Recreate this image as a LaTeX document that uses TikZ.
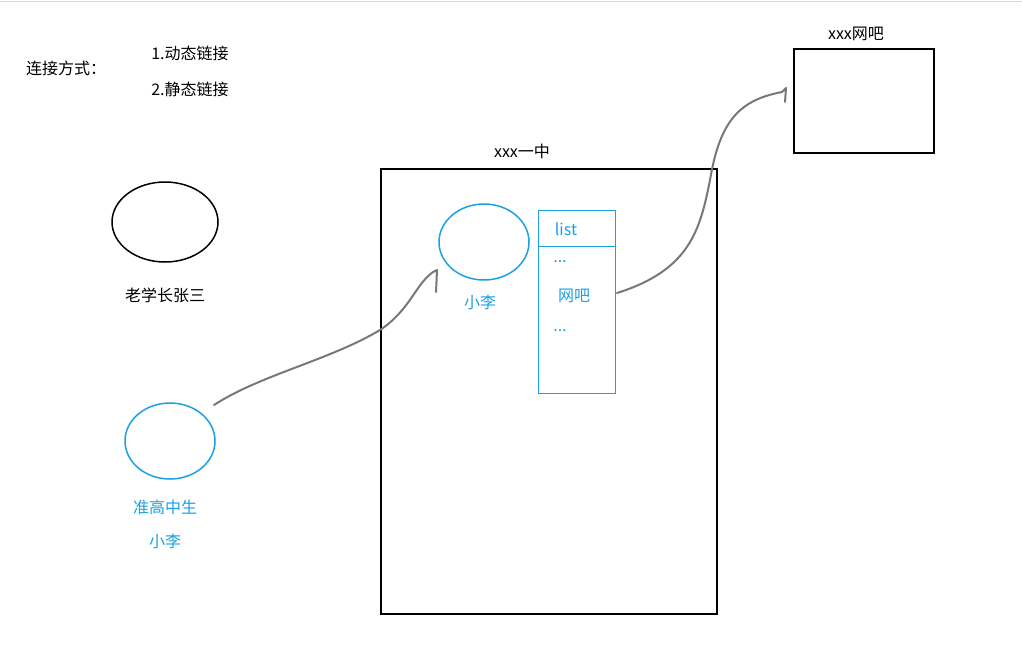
\documentclass[tikz,border=0pt]{standalone}
\usepackage{fontspec}
\usetikzlibrary{shapes.geometric}
\newfontfamily\cjk{Noto Sans CJK SC}
\definecolor{sky}{RGB}{27,161,226}
\definecolor{pen}{RGB}{120,120,120}
\begin{document}
\begin{tikzpicture}[x=1pt,y=-1pt,
  lbl/.style={font=\cjk\fontsize{16}{18}\selectfont,inner sep=0pt},
  blbl/.style={lbl,text=sky},
  stroke/.style={draw=pen,line width=2pt,line cap=round,line join=round}]
\useasboundingbox[fill=white] (0,0) rectangle (1022,657);
\draw[gray!30] (0,1) -- (1022,1);
\node[lbl] (way) at (66,68) {连接方式：};
\node[lbl] (m1) at (190,53) {1.动态链接};
\node[lbl] (m2) at (190,89) {2.静态链接};
\node[draw,line width=1.5pt,ellipse,minimum width=106pt,minimum height=80pt,inner sep=0pt] (zs) at (165,222) {};
\node[lbl] (zsl) at (165,295) {老学长张三};
\node[draw=sky,line width=1.5pt,ellipse,minimum width=90pt,minimum height=76pt,inner sep=0pt] (li) at (170,441) {};
\node[blbl] (lil1) at (165,507) {准高中生};
\node[blbl] (lil2) at (165,541) {小李};
\node[draw,line width=1.5pt,minimum width=336pt,minimum height=445pt,inner sep=0pt] (school) at (549,391.5) {};
\node[lbl] (schooll) at (522,151) {xxx一中};
\node[draw=sky,line width=1.5pt,ellipse,minimum width=90pt,minimum height=76pt,inner sep=0pt] (li2) at (484,242) {};
\node[blbl] (li2l) at (480,302) {小李};
\node[draw=sky,minimum width=77pt,minimum height=183pt,inner sep=0pt] (list) at (576.5,301.5) {};
\draw[sky] (538,246) -- (615,246);
\node[blbl] (l1) at (566,229) {list};
\node[blbl] (l2) at (560,262) {...};
\node[blbl] (l3) at (574,296) {网吧};
\node[blbl] (l4) at (560,331) {...};
\node[draw,line width=1.5pt,minimum width=140pt,minimum height=104pt,inner sep=0pt] (bar) at (864,101) {};
\node[lbl] (barl) at (856,34) {xxx网吧};
\coordinate (a1) at (214,405);
\coordinate (a2) at (433,272);
\draw[stroke] (a1) .. controls (260,375) and (330,360) .. (380,330) .. controls (410,310) and (415,285) .. (a2) -- (437,270) -- (436,292);
\coordinate (b1) at (617,293);
\coordinate (b2) at (782,92);
\draw[stroke] (b1) .. controls (690,270) and (700,230) .. (710,180) .. controls (720,120) and (740,100) .. (b2) -- (786,88) -- (785,102);
\end{tikzpicture}
\end{document}
